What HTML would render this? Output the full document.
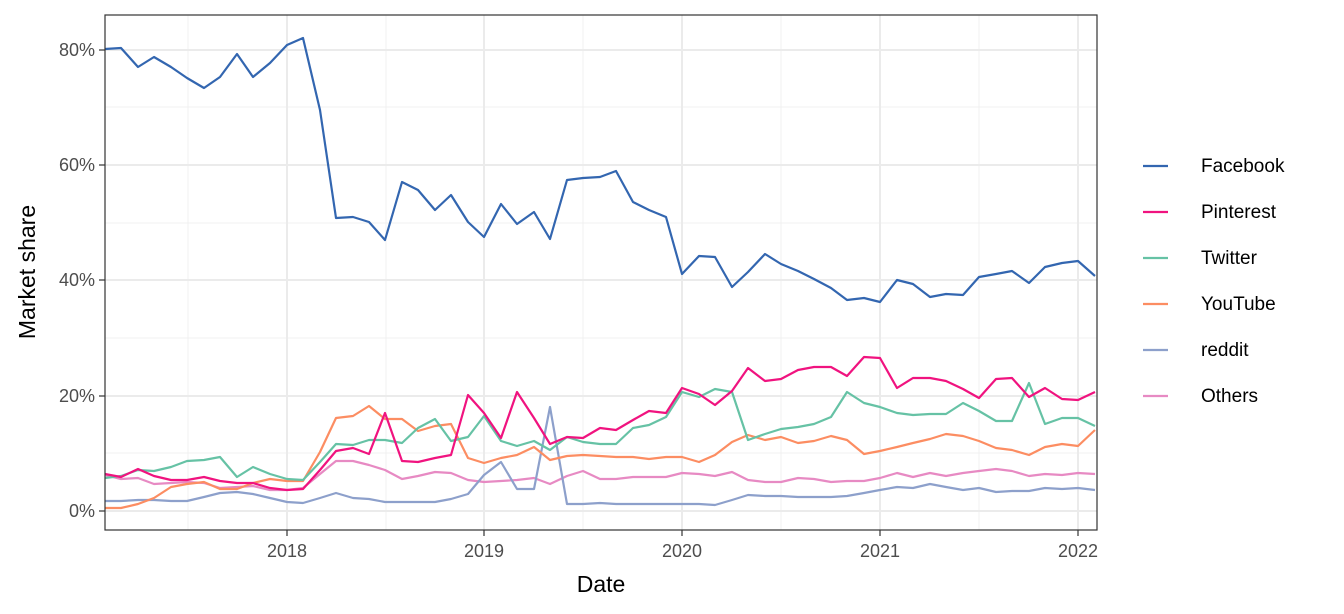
<!DOCTYPE html>
<html><head><meta charset="utf-8"><style>
html,body{margin:0;padding:0;background:#fff;}
svg{display:block;font-family:"Liberation Sans",sans-serif;}
</style></head><body>
<svg width="1344" height="614" viewBox="0 0 1344 614">
<rect width="1344" height="614" fill="#fff"/>
<g stroke="#f0f0f0" stroke-width="1">
<line x1="105" x2="1097" y1="453" y2="453"/><line x1="105" x2="1097" y1="338" y2="338"/>
<line x1="105" x2="1097" y1="223" y2="223"/><line x1="105" x2="1097" y1="107" y2="107"/>
<line y1="15" y2="530" x1="188" x2="188"/><line y1="15" y2="530" x1="386" x2="386"/>
<line y1="15" y2="530" x1="583" x2="583"/><line y1="15" y2="530" x1="781" x2="781"/>
<line y1="15" y2="530" x1="979" x2="979"/>
</g>
<g stroke="#ebebeb" stroke-width="2">
<line x1="105" x2="1097" y1="511" y2="511"/><line x1="105" x2="1097" y1="396" y2="396"/>
<line x1="105" x2="1097" y1="280" y2="280"/><line x1="105" x2="1097" y1="165" y2="165"/>
<line x1="105" x2="1097" y1="50" y2="50"/>
<line y1="15" y2="530" x1="287" x2="287"/><line y1="15" y2="530" x1="484" x2="484"/>
<line y1="15" y2="530" x1="682" x2="682"/><line y1="15" y2="530" x1="880" x2="880"/>
<line y1="15" y2="530" x1="1078" x2="1078"/>
</g>
<g fill="none" stroke-width="2.2" stroke-linejoin="round">
<polyline stroke="#e78ac3" points="105,475 121,479 138,478 154,484 171,483 187,482 204,483 220,488 237,487 253,486 270,490 287,490 303,488 320,474 336,461 353,461 369,465 385,470 402,479 418,476 435,472 451,473 468,480 484,482 501,481 517,480 534,478 550,484 567,476 583,471 600,479 616,479 633,477 649,477 666,477 682,473 699,474 715,476 732,472 748,480 765,482 781,482 798,478 814,479 831,482 847,481 864,481 880,478 897,473 913,477 930,473 946,476 963,473 979,471 996,469 1012,471 1029,476 1045,474 1062,475 1078,473 1095,474"/>
<polyline stroke="#8da0cb" points="105,501 121,501 138,500 154,500 171,501 187,501 204,497 220,493 237,492 253,494 270,498 287,502 303,503 320,498 336,493 353,498 369,499 385,502 402,502 418,502 435,502 451,499 468,494 484,475 501,462 517,489 534,489 550,407 567,504 583,504 600,503 616,504 633,504 649,504 666,504 682,504 699,504 715,505 732,500 748,495 765,496 781,496 798,497 814,497 831,497 847,496 864,493 880,490 897,487 913,488 930,484 946,487 963,490 979,488 996,492 1012,491 1029,491 1045,488 1062,489 1078,488 1095,490"/>
<polyline stroke="#fc8d62" points="105,508 121,508 138,504 154,498 171,487 187,484 204,482 220,489 237,489 253,483 270,479 287,481 303,481 320,452 336,418 353,416 369,406 385,419 402,419 418,431 435,426 451,424 468,458 484,463 501,458 517,455 534,447 550,460 567,456 583,455 600,456 616,457 633,457 649,459 666,457 682,457 699,462 715,455 732,442 748,435 765,440 781,437 798,443 814,441 831,436 847,440 864,454 880,451 897,447 913,443 930,439 946,434 963,436 979,441 996,448 1012,450 1029,455 1045,447 1062,444 1078,446 1095,430"/>
<polyline stroke="#66c2a5" points="105,478 121,476 138,470 154,471 171,467 187,461 204,460 220,457 237,477 253,467 270,474 287,479 303,480 320,462 336,444 353,445 369,440 385,440 402,443 418,428 435,419 451,441 468,437 484,416 501,441 517,446 534,441 550,450 567,437 583,442 600,444 616,444 633,428 649,425 666,417 682,392 699,397 715,389 732,392 748,440 765,434 781,429 798,427 814,424 831,417 847,392 864,403 880,407 897,413 913,415 930,414 946,414 963,403 979,411 996,421 1012,421 1029,383 1045,424 1062,418 1078,418 1095,426"/>
<polyline stroke="#f0137f" points="105,474 121,477 138,469 154,476 171,480 187,480 204,477 220,481 237,483 253,483 270,488 287,490 303,489 320,470 336,451 353,448 369,454 385,413 402,461 418,462 435,458 451,455 468,395 484,413 501,438 517,392 534,418 550,444 567,437 583,438 600,428 616,430 633,420 649,411 666,413 682,388 699,394 715,405 732,391 748,368 765,381 781,379 798,370 814,367 831,367 847,376 864,357 880,358 897,388 913,378 930,378 946,381 963,389 979,398 996,379 1012,378 1029,397 1045,388 1062,399 1078,400 1095,392"/>
<polyline stroke="#3366b0" points="105,49 121,48 138,67 154,57 171,67 187,78 204,88 220,77 237,54 253,77 270,63 287,45 303,38 320,110 336,218 353,217 369,222 385,240 402,182 418,190 435,210 451,195 468,222 484,237 501,204 517,224 534,212 550,239 567,180 583,178 600,177 616,171 633,202 649,210 666,217 682,274 699,256 715,257 732,287 748,272 765,254 781,264 798,271 814,279 831,288 847,300 864,298 880,302 897,280 913,284 930,297 946,294 963,295 979,277 996,274 1012,271 1029,283 1045,267 1062,263 1078,261 1095,276"/>
</g>
<rect x="105" y="15" width="992" height="515" fill="none" stroke="#333" stroke-width="1.2"/>
<g stroke="#333" stroke-width="1.2">
<line x1="99" x2="105" y1="511" y2="511"/><line x1="99" x2="105" y1="396" y2="396"/>
<line x1="99" x2="105" y1="280" y2="280"/><line x1="99" x2="105" y1="165" y2="165"/>
<line x1="99" x2="105" y1="50" y2="50"/>
<line y1="530" y2="536" x1="287" x2="287"/><line y1="530" y2="536" x1="484" x2="484"/>
<line y1="530" y2="536" x1="682" x2="682"/><line y1="530" y2="536" x1="880" x2="880"/>
<line y1="530" y2="536" x1="1078" x2="1078"/>
</g>
<g fill="#4d4d4d" font-size="18" text-anchor="end">
<text x="95" y="517">0%</text><text x="95" y="402">20%</text><text x="95" y="286">40%</text>
<text x="95" y="171">60%</text><text x="95" y="56">80%</text>
</g>
<g fill="#4d4d4d" font-size="18" text-anchor="middle">
<text x="287" y="557">2018</text><text x="484" y="557">2019</text><text x="682" y="557">2020</text>
<text x="880" y="557">2021</text><text x="1078" y="557">2022</text>
</g>
<text x="601" y="592" font-size="23" text-anchor="middle" fill="#000">Date</text>
<text transform="translate(35,272) rotate(-90)" font-size="23" text-anchor="middle" fill="#000">Market share</text>
<g stroke-width="2.2">
<line x1="1143" x2="1168" y1="166" y2="166" stroke="#3366b0"/>
<line x1="1143" x2="1168" y1="212" y2="212" stroke="#f0137f"/>
<line x1="1143" x2="1168" y1="258" y2="258" stroke="#66c2a5"/>
<line x1="1143" x2="1168" y1="304" y2="304" stroke="#fc8d62"/>
<line x1="1143" x2="1168" y1="350" y2="350" stroke="#8da0cb"/>
<line x1="1143" x2="1168" y1="396" y2="396" stroke="#e78ac3"/>
</g>
<g font-size="19" fill="#000">
<text x="1201" y="172">Facebook</text><text x="1201" y="218">Pinterest</text>
<text x="1201" y="264">Twitter</text><text x="1201" y="310">YouTube</text>
<text x="1201" y="356">reddit</text><text x="1201" y="402">Others</text>
</g>
</svg>
</body></html>
